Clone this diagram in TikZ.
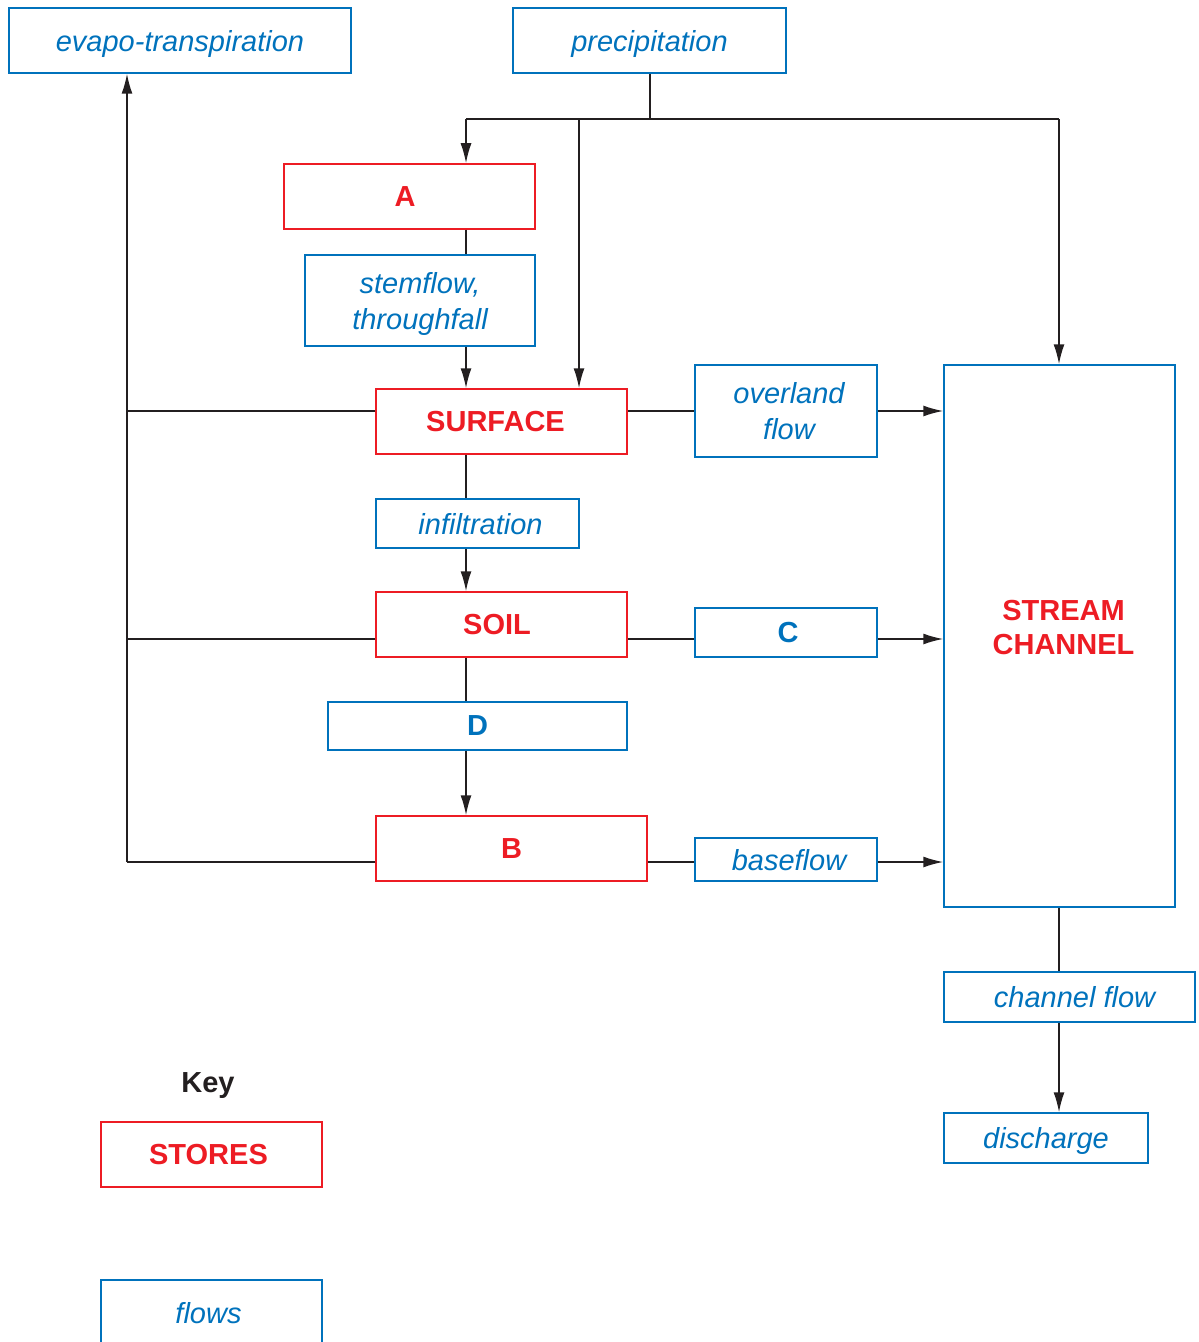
\documentclass[tikz,border=0pt]{standalone}
\usepackage{fontspec}
\setmainfont{Liberation Sans}
\usetikzlibrary{arrows.meta}
\definecolor{sred}{RGB}{237,28,36}
\definecolor{fblue}{RGB}{0,114,188}
\definecolor{lnk}{RGB}{35,31,32}
\begin{document}
\begin{tikzpicture}[x=0.5pt,y=-0.5pt,
  base/.style={draw,rectangle,inner sep=0pt,align=center,line width=0.75pt,text depth=0pt,font=\fontsize{14.5}{17.5}\selectfont},
  store/.style={base,draw=sred,text=sred,font=\fontsize{14.5}{17.5}\selectfont\bfseries},
  flow/.style={base,draw=fblue,text=fblue,font=\fontsize{14.5}{18}\selectfont\itshape},
  ln/.style={draw=lnk,line width=0.8pt},
  arr/.style={ln,-{Latex[length=10pt,width=5.5pt]}}]
\useasboundingbox (0,0) rectangle (1198,1342);
\clip (0,0) rectangle (1198,1342);
% nodes
\node[flow,minimum width=171pt,minimum height=32.5pt] (evap) at (180,40.5) {evapo-transpiration};
\node[flow,minimum width=136.5pt,minimum height=32.5pt] (prec) at (649.5,40.5) {precipitation};
\node[store,minimum width=125.5pt,minimum height=32.5pt] (A) at (409.5,196.5) {\hspace*{-4.5pt}A};
\node[flow,minimum width=115pt,minimum height=45.5pt] (stem) at (420,300.5) {stemflow,\\throughfall};
\node[store,minimum width=125.5pt,minimum height=32.5pt] (surf) at (501.5,421.5) {\hspace*{-6pt}SURFACE};
\node[flow,minimum width=101.5pt,minimum height=24.5pt] (infil) at (477.5,523.5) {\hspace*{3pt}infiltration};
\node[store,minimum width=125.5pt,minimum height=32.5pt] (soil) at (501.5,624.5) {\hspace*{-4.5pt}SOIL};
\node[flow,minimum width=149.5pt,minimum height=24pt,font=\fontsize{14.5}{17.5}\selectfont\bfseries] (D) at (477.5,726) {D};
\node[store,minimum width=135.5pt,minimum height=32.5pt] (B) at (511.5,848.5) {B};
\node[flow,minimum width=91pt,minimum height=46pt] (over) at (786,411) {\hspace*{3pt}overland\\\hspace*{3pt}flow};
\node[flow,minimum width=91pt,minimum height=24.5pt,font=\fontsize{14.5}{17.5}\selectfont\bfseries] (C) at (786,632.5) {\hspace*{2pt}C};
\node[flow,minimum width=91pt,minimum height=21.5pt] (base) at (786,859.5) {\hspace*{3pt}baseflow};
\node[store,draw=fblue,minimum width=115.5pt,minimum height=271pt,text depth=9pt,font=\fontsize{14.5}{17}\selectfont\bfseries] (stream) at (1059.5,636) {\hspace*{4pt}STREAM\\\hspace*{4pt}CHANNEL};
\node[flow,minimum width=125.5pt,minimum height=25pt] (chan) at (1069.5,997) {\hspace*{5pt}channel flow};
\node[flow,minimum width=102pt,minimum height=25pt] (disc) at (1046,1138) {discharge};
\node[font=\fontsize{14.5}{17.5}\selectfont\bfseries,text=lnk,text depth=0pt] (key) at (208,1083) {Key};
\node[store,minimum width=110.5pt,minimum height=32.5pt] (stores) at (211.5,1154.5) {\hspace*{-3pt}STORES};
\node[flow,minimum width=110.5pt,minimum height=32.5pt] (flows) at (211.5,1312.5) {\hspace*{-3pt}flows};
% coordinates
\coordinate (pj) at (650,119);
\coordinate (pa) at (466,119);
\coordinate (ps) at (579,119);
\coordinate (pc) at (1059,119);
\coordinate (sp1) at (127,411);
\coordinate (sp2) at (127,639);
\coordinate (sp3) at (127,862);
% connectors
\draw[ln] (prec.south -| pj) -- (pj);
\draw[ln] (pa) -- (pc);
\draw[arr] (pa) -- (A.north -| pa);
\draw[arr] (ps) -- (surf.north -| ps);
\draw[arr] (pc) -- (stream.north -| pc);
\draw[ln] (A.south -| pa) -- (stem.north -| pa);
\draw[arr] (stem.south -| pa) -- (surf.north -| pa);
\draw[ln] (surf.south -| pa) -- (infil.north -| pa);
\draw[arr] (infil.south -| pa) -- (soil.north -| pa);
\draw[ln] (soil.south -| pa) -- (D.north -| pa);
\draw[arr] (D.south -| pa) -- (B.north -| pa);
\draw[ln] (surf.west |- sp1) -- (sp1);
\draw[ln] (soil.west |- sp2) -- (sp2);
\draw[ln] (B.west |- sp3) -- (sp3);
\draw[arr] (sp3) -- (evap.south -| sp3);
\draw[ln] (surf.east |- sp1) -- (over.west |- sp1);
\draw[arr] (over.east |- sp1) -- (stream.west |- sp1);
\draw[ln] (soil.east |- sp2) -- (C.west |- sp2);
\draw[arr] (C.east |- sp2) -- (stream.west |- sp2);
\draw[ln] (B.east |- sp3) -- (base.west |- sp3);
\draw[arr] (base.east |- sp3) -- (stream.west |- sp3);
\draw[ln] (stream.south -| pc) -- (chan.north -| pc);
\draw[arr] (chan.south -| pc) -- (disc.north -| pc);
\end{tikzpicture}
\end{document}
